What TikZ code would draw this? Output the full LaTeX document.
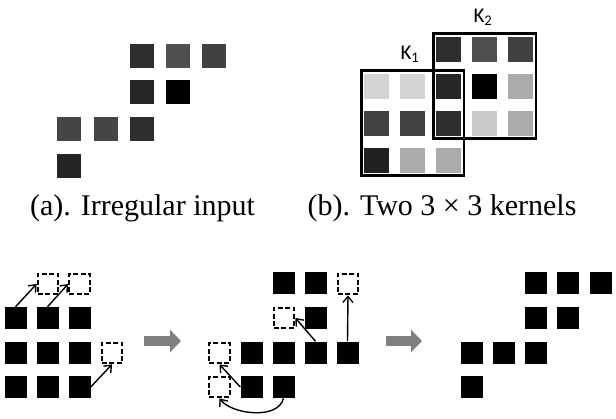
\documentclass[tikz,border=0pt]{standalone}
\usepackage{fontspec}
\setmainfont{Liberation Serif}
\setsansfont{Carlito}
\usetikzlibrary{arrows.meta,positioning,fit}
\tikzset{
  cell/.style={inner sep=0pt, minimum size=24pt},
  kcell/.style={inner sep=0pt, minimum size=25pt},
  kernel/.style={draw=black, line width=2.6pt, inner sep=2.6pt},
  klabel/.style={font=\sffamily\fontsize{21}{25}\selectfont, inner sep=0pt},
  caption/.style={font=\fontsize{30}{36}\selectfont, inner sep=0pt},
  pix/.style={fill=black, inner sep=0pt, minimum size=22pt},
  hole/.style={draw=black, line width=2.3pt, dash pattern=on 5pt off 2.5pt, inner sep=0pt, minimum size=20.5pt},
  move/.style={-{Straight Barb[length=6pt,width=10pt]}, line width=1.4pt},
  stage/.style={-{Triangle[length=11pt,width=22pt]}, line width=10pt, draw=gray}
}

\begin{document}
\begin{tikzpicture}[x=1pt, y=-1pt]
  \useasboundingbox (0,0) rectangle (616,418);
  % (a) irregular input
  \node[cell, fill=black!82] (a13) at (142,56) {};
  \node[cell, fill=black!69] (a14) at (178,56) {};
  \node[cell, fill=black!75] (a15) at (214,56) {};
  \node[cell, fill=black!85] (a23) at (142,92) {};
  \node[cell, fill=black] (a24) at (178,92) {};
  \node[cell, fill=black!73] (a31) at (69,129) {};
  \node[cell, fill=black!73] (a32) at (106,129) {};
  \node[cell, fill=black!82] (a33) at (142,129) {};
  \node[cell, fill=black!86] (a41) at (69,166) {};
  \node[caption] (capa) at (142.5,208) {(a). Irregular input};
  % (b) two kernels
  \node[kcell, fill=black!82] (b13) at (448.5,49) {};
  \node[kcell, fill=black!69] (b14) at (484.5,49) {};
  \node[kcell, fill=black!75] (b15) at (520.5,49) {};
  \node[kcell, fill=black!17] (b21) at (376.5,86) {};
  \node[kcell, fill=black!17] (b22) at (412.5,86) {};
  \node[kcell, fill=black!85] (b23) at (448.5,86) {};
  \node[kcell, fill=black] (b24) at (484.5,86) {};
  \node[kcell, fill=black!33] (b25) at (520.5,86) {};
  \node[kcell, fill=black!74] (b31) at (376.5,123) {};
  \node[kcell, fill=black!74] (b32) at (412.5,123) {};
  \node[kcell, fill=black!82] (b33) at (448.5,123) {};
  \node[kcell, fill=black!21] (b34) at (484.5,123) {};
  \node[kcell, fill=black!33] (b35) at (520.5,123) {};
  \node[kcell, fill=black!87] (b41) at (376.5,160) {};
  \node[kcell, fill=black!33] (b42) at (412.5,160) {};
  \node[kcell, fill=black!33] (b43) at (448.5,160) {};
  \node[kernel, fit=(b21) (b43)] (k1) {};
  \node[kernel, fit=(b13) (b35)] (k2) {};
  \node[klabel] (k1lab) at (410,54) {K\textsubscript{1}};
  \node[klabel] (k2lab) at (483,17) {K\textsubscript{2}};
  \node[caption] (capb) at (442,208) {(b). Two 3 × 3 kernels};
  % bottom left
  \node[hole] (lh1) at (48,284) {};
  \node[hole] (lh2) at (79.5,284) {};
  \node[hole] (lh3) at (112,353) {};
  \node[pix] (l11) at (15.5,318) {};
  \node[pix] (l12) at (47.5,318) {};
  \node[pix] (l13) at (79.5,318) {};
  \node[pix] (l21) at (15.5,352.5) {};
  \node[pix] (l22) at (47.5,352.5) {};
  \node[pix] (l23) at (79.5,352.5) {};
  \node[pix] (l31) at (15.5,387) {};
  \node[pix] (l32) at (47.5,387) {};
  \node[pix] (l33) at (79.5,387) {};
  \draw[move] (l11.north) -- (lh1.west);
  \draw[move] (l12.north) -- (lh2.west);
  \draw[move] (l33.east) -- (lh3.south);
  % bottom middle
  \node[pix] (m12) at (283.5,283) {};
  \node[pix] (m13) at (315.5,283) {};
  \node[hole] (mh1) at (348,284) {};
  \node[hole] (mh2) at (284,318) {};
  \node[pix] (m23) at (315.5,318) {};
  \node[hole] (mh3) at (219.5,353) {};
  \node[pix] (m31) at (251.5,352.5) {};
  \node[pix] (m32) at (283.5,352.5) {};
  \node[pix] (m33) at (315.5,352.5) {};
  \node[pix] (m34) at (347.5,352.5) {};
  \node[hole] (mh4) at (219.5,387) {};
  \node[pix] (m41) at (251.5,387) {};
  \node[pix] (m42) at (283.5,387) {};
  \draw[move] (m34.north) -- (mh1.south);
  \draw[move] (m33.north) -- (mh2.east);
  \draw[move] (m41.west) -- (mh3.south);
  \draw[move] (m42.south) .. controls +(-5,22) and +(12,16) .. (mh4.south);
  % bottom right
  \node[pix] (r13) at (536,283) {};
  \node[pix] (r14) at (568,283) {};
  \node[pix] (r15) at (600.5,283) {};
  \node[pix] (r23) at (536,318) {};
  \node[pix] (r24) at (568,318) {};
  \node[pix] (r31) at (471.5,352.5) {};
  \node[pix] (r32) at (503.5,352.5) {};
  \node[pix] (r33) at (536,352.5) {};
  \node[pix] (r41) at (471.5,387) {};
  % steps
  \coordinate (s1) at (144,341);
  \coordinate (e1) at (181,341);
  \coordinate (s2) at (386,341);
  \coordinate (e2) at (422,341);
  \draw[stage] (s1) -- (e1);
  \draw[stage] (s2) -- (e2);
\end{tikzpicture}
\end{document}
